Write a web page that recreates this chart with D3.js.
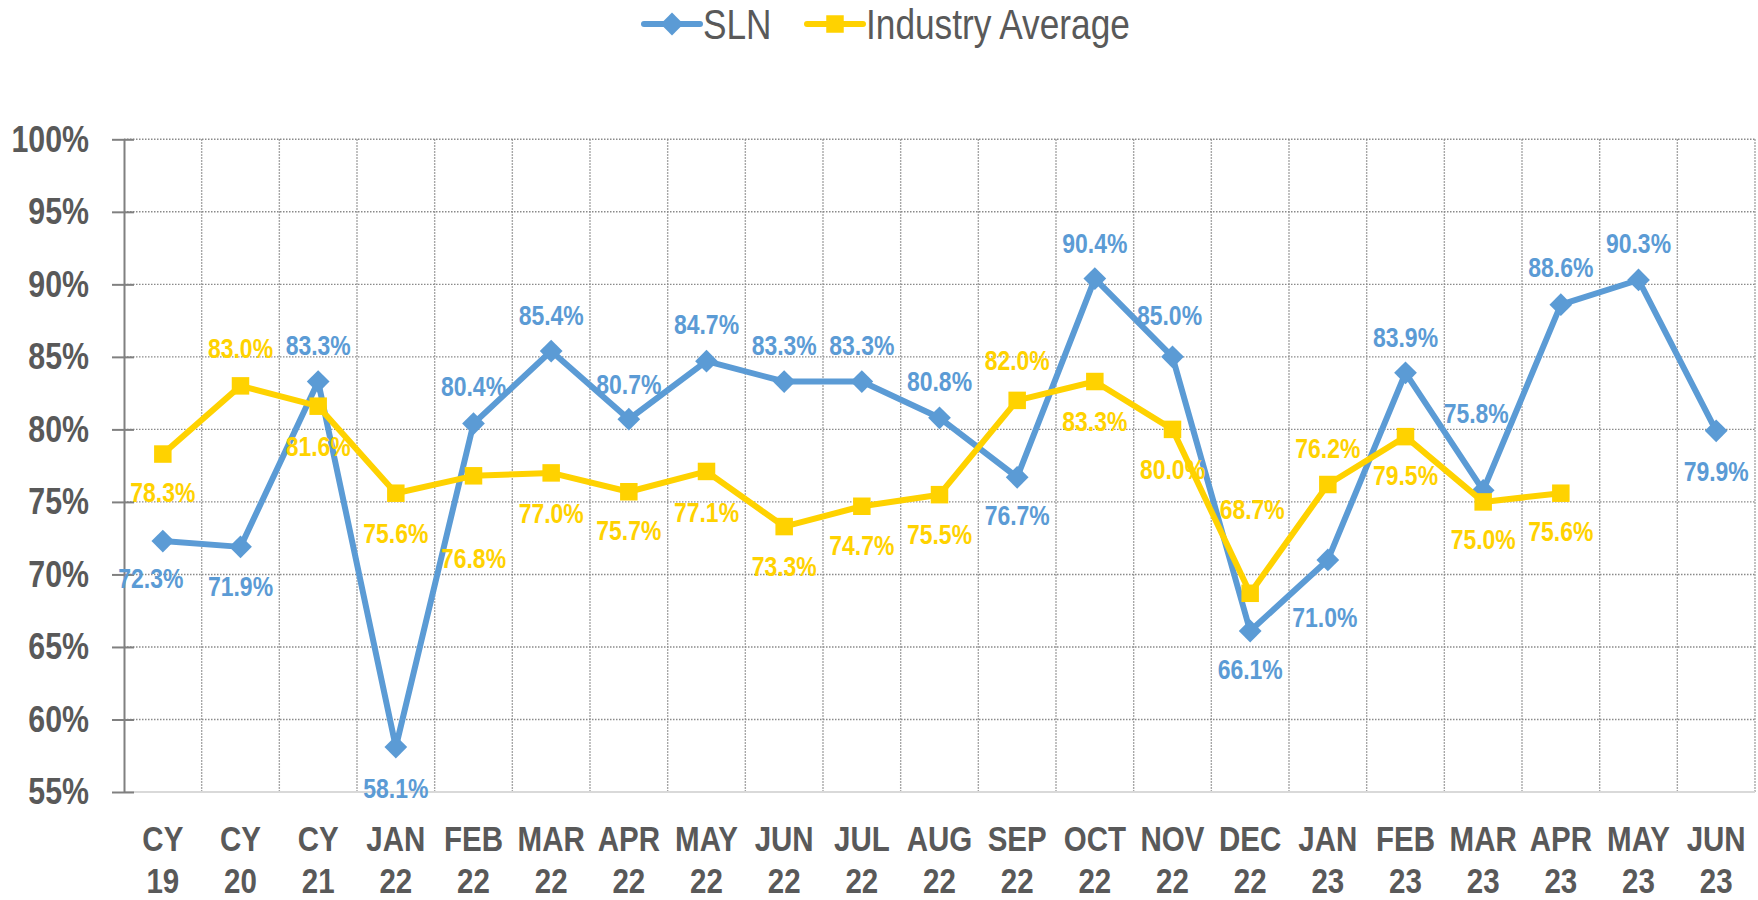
<!DOCTYPE html>
<html>
<head>
<meta charset="utf-8">
<script src="https://cdn.jsdelivr.net/npm/d3@7"></script>
<style>
  body { margin: 0; background: #fff; }
  svg { display: block; }
  text { font-family: "Liberation Sans", Arial, sans-serif; }
</style>
</head>
<body>
<div id="chart"></div>
<script>

var categories = ["CY 19", "CY 20", "CY 21", "JAN 22", "FEB 22", "MAR 22", "APR 22", "MAY 22", "JUN 22",
  "JUL 22", "AUG 22", "SEP 22", "OCT 22", "NOV 22", "DEC 22", "JAN 23", "FEB 23", "MAR 23", "APR 23",
  "MAY 23", "JUN 23"];

var slnValues = [72.3, 71.9, 83.3, 58.1, 80.4, 85.4, 80.7, 84.7, 83.3, 83.3, 80.8, 76.7, 90.4, 85.0,
  66.1, 71.0, 83.9, 75.8, 88.6, 90.3, 79.9];

var industryValues = [78.3, 83.0, 81.6, 75.6, 76.8, 77.0, 75.7, 77.1, 73.3, 74.7, 75.5, 82.0, 83.3, 80.0,
  68.7, 76.2, 79.5, 75.0, 75.6, null, null];

var yTicks = [55, 60, 65, 70, 75, 80, 85, 90, 95, 100];

// where each value label sits relative to its marker (pixels)
var slnLabelOffset = [[-12, 37], [0, 39], [0, -37], [0, 41], [0, -38], [0, -36], [0, -35], [0, -37],
  [0, -37], [0, -37], [0, -37], [0, 38], [0, -36], [-3, -42], [0, 38], [-3, 57], [0, -36], [-7, -77],
  [0, -38], [0, -37], [0, 40]];
var industryLabelOffset = [[0, 38], [0, -38], [0, 40], [0, 40], [0, 82], [0, 40], [0, 38], [0, 40],
  [0, 39], [0, 39], [0, 39], [0, -40], [0, 39], [0, 40], [2, -84], [0, -37], [0, 38], [0, 37], [0, 38],
  [0, 0], [0, 0]];

var blue = "#5b9bd5",
  yellow = "#ffd200",
  axisText = "#595959";

var W = 1758, H = 900;
var margin = { top: 139.3, right: 3, bottom: 108, left: 124 };
var narrow = 0.82; // no Arial Narrow here, so squeeze Liberation Sans

function squeeze(sel) {
  sel.each(function () {
    var t = d3.select(this);
    var x = +t.attr("x") || 0, y = +t.attr("y") || 0;
    t.attr("transform", "translate(" + x + "," + y + ") scale(" + narrow + ",1)")
      .attr("x", 0)
      .attr("y", 0);
  });
}

var svg = d3.select("#chart")
  .append("svg")
  .attr("width", W)
  .attr("height", H);

var xScale = d3.scaleBand().domain(categories).range([margin.left, W - margin.right]),
  yScale = d3.scaleLinear().domain([55, 100]).range([H - margin.bottom, margin.top]);

function xMid(i) {
  return xScale(categories[i]) + xScale.bandwidth() / 2;
}

// grid
var grid = svg.append("g").attr("class", "grid");

grid.selectAll("line.h")
  .data(yTicks.slice(1))
  .enter()
  .append("line")
  .attr("class", "h")
  .attr("x1", margin.left)
  .attr("x2", W - margin.right)
  .attr("y1", function (d) { return yScale(d); })
  .attr("y2", function (d) { return yScale(d); })
  .attr("stroke", "#8a8a8a")
  .attr("stroke-width", 1.4)
  .attr("stroke-dasharray", "1.5,1.5");

grid.selectAll("line.v")
  .data(categories)
  .enter()
  .append("line")
  .attr("class", "v")
  .attr("x1", function (d) { return xScale(d) + xScale.bandwidth(); })
  .attr("x2", function (d) { return xScale(d) + xScale.bandwidth(); })
  .attr("y1", yScale(100))
  .attr("y2", yScale(55))
  .attr("stroke", "#8a8a8a")
  .attr("stroke-width", 1.4)
  .attr("stroke-dasharray", "1.5,1.5");

// x axis baseline + labels
svg.append("line")
  .attr("x1", margin.left)
  .attr("x2", W - margin.right)
  .attr("y1", yScale(55))
  .attr("y2", yScale(55))
  .attr("stroke", "#d9d9d9")
  .attr("stroke-width", 2);

var xLabels = svg.append("g").attr("class", "x-labels");

[0, 1].forEach(function (row) {
  xLabels.selectAll("text.row" + row)
    .data(categories)
    .enter()
    .append("text")
    .attr("class", "row" + row)
    .attr("x", function (d, i) { return xMid(i); })
    .attr("y", row === 0 ? 851 : 893)
    .attr("text-anchor", "middle")
    .attr("fill", axisText)
    .attr("font-size", 36)
    .attr("font-weight", "bold")
    .text(function (d) { return d.split(" ")[row]; })
    .call(squeeze);
});

// y axis
var yAxis = d3.axisLeft(yScale)
  .tickValues(yTicks)
  .tickSize(0)
  .tickPadding(35)
  .tickFormat(function (d) { return d + "%"; });

var yAxisG = svg.append("g")
  .attr("transform", "translate(" + margin.left + ",0)")
  .call(yAxis);

yAxisG.select(".domain")
  .attr("stroke", "#808080")
  .attr("stroke-width", 2);

yAxisG.selectAll(".tick line")
  .attr("x1", -12)
  .attr("x2", 10)
  .attr("stroke", "#808080")
  .attr("stroke-width", 2);

yAxisG.selectAll(".tick text")
  .attr("fill", axisText)
  .attr("font-size", 37)
  .attr("font-weight", "bold")
  .attr("font-family", null)
  .call(squeeze);

// series
var line = d3.line()
  .defined(function (d) { return d !== null; })
  .x(function (d, i) { return xMid(i); })
  .y(function (d) { return yScale(d); });

function drawSeries(values, color, shape, size, offsets) {
  var g = svg.append("g");

  g.append("path")
    .datum(values)
    .attr("fill", "none")
    .attr("stroke", color)
    .attr("stroke-width", 6)
    .attr("stroke-linejoin", "round")
    .attr("d", line);

  var pts = values.map(function (v, i) { return { v: v, i: i }; })
    .filter(function (d) { return d.v !== null; });

  g.selectAll("path.marker")
    .data(pts)
    .enter()
    .append("path")
    .attr("class", "marker")
    .attr("fill", color)
    .attr("transform", function (d) { return "translate(" + xMid(d.i) + "," + yScale(d.v) + ")"; })
    .attr("d", d3.symbol().type(shape).size(size));

  g.selectAll("text")
    .data(pts)
    .enter()
    .append("text")
    .attr("x", function (d) { return xMid(d.i) + offsets[d.i][0]; })
    .attr("y", function (d) { return yScale(d.v) + offsets[d.i][1]; })
    .attr("dy", "0.36em")
    .attr("text-anchor", "middle")
    .attr("fill", color)
    .attr("font-size", 28)
    .attr("font-weight", "bold")
    .text(function (d) { return d.v.toFixed(1) + "%"; })
    .call(squeeze);
}

drawSeries(slnValues, blue, d3.symbolDiamond2, 330, slnLabelOffset);
drawSeries(industryValues, yellow, d3.symbolSquare2, 390, industryLabelOffset);

// legend
var legend = svg.append("g").attr("class", "legend");
var legendItems = [
  { name: "SLN", color: blue, shape: d3.symbolDiamond2, size: 330, x: 644 },
  { name: "Industry Average", color: yellow, shape: d3.symbolSquare2, size: 390, x: 807 }
];

legendItems.forEach(function (it) {
  legend.append("line")
    .attr("x1", it.x)
    .attr("x2", it.x + 56)
    .attr("y1", 24)
    .attr("y2", 24)
    .attr("stroke", it.color)
    .attr("stroke-width", 6)
    .attr("stroke-linecap", "round");
  legend.append("path")
    .attr("fill", it.color)
    .attr("transform", "translate(" + (it.x + 28) + ",24)")
    .attr("d", d3.symbol().type(it.shape).size(it.size));
  legend.append("text")
    .attr("x", it.x + 59)
    .attr("y", 24)
    .attr("dy", "0.36em")
    .attr("fill", axisText)
    .attr("font-size", 43)
    .text(it.name)
    .call(squeeze);
});

</script>
</body>
</html>
